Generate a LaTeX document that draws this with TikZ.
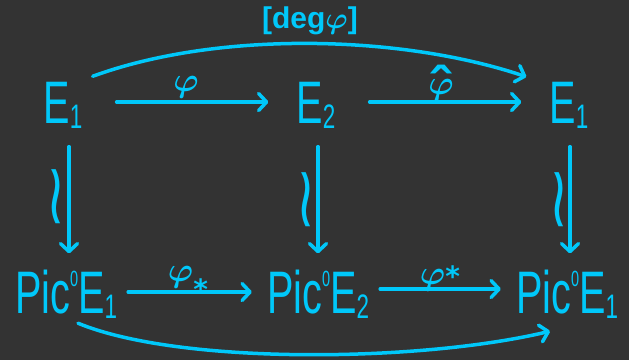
\RequirePackage{fix-cm}
\documentclass[tikz,border=0pt]{standalone}
\usepackage{fontspec}
\setmainfont{Liberation Sans}
\newfontfamily\gr{DejaVu Sans}
\usetikzlibrary{arrows.meta}
\definecolor{bg}{RGB}{51,51,51}
\definecolor{cy}{RGB}{0,200,250}
\newcommand{\objtxt}[1]{\scalebox{0.66}[1]{\fontsize{60}{60}\selectfont #1}}
\newcommand{\lowsub}[1]{\raisebox{-5pt}{\fontsize{34}{34}\selectfont #1}}
\newcommand{\highsup}[1]{\raisebox{27pt}{\fontsize{22}{22}\selectfont #1}}
\newcommand{\phisym}{{\boldmath$\varphi$}}
\newcommand{\starsym}{{\gr\bfseries\fontsize{28}{28}\selectfont *}}
\newcommand{\hatsym}{{\gr\bfseries\fontsize{40}{40}\selectfont\scalebox{1.5}[1.2]{\char"02C6}}}
\newcommand{\wrsym}{\rotatebox{-90}{\scalebox{1.8}[1.1]{∼}}}
\begin{document}
\begin{tikzpicture}[x=1pt,y=-1pt,
  every node/.style={text=cy, inner sep=0pt},
  obj/.style={text height=43pt, text depth=0pt},
  lab/.style={font=\fontsize{34}{34}\selectfont, anchor=base},
  wr/.style={font=\gr\fontsize{48}{48}\selectfont},
  arr/.style={draw=cy, line width=3.5pt, line cap=round,
    -{Straight Barb[length=8pt,width=17pt,line cap=round,line join=round]}},
  toph/.style={arr, shorten <=34pt, shorten >=28pt},
  both/.style={arr, shorten <=11pt, shorten >=15pt},
  vert/.style={arr, shorten <=23pt, shorten >=17pt}
]
\fill[bg] (0,0) rectangle (629,360);
\useasboundingbox (0,0) rectangle (629,360);

% objects
\node[obj] (E1L) at (63,102) {\objtxt{E\lowsub{1}}};
\node[obj] (E2)  at (316,102) {\objtxt{E\lowsub{2}}};
\node[obj] (E1R) at (569,102) {\objtxt{E\lowsub{1}}};
\node[obj] (P1L) at (66,292) {\objtxt{Pic\highsup{0}E\lowsub{1}}};
\node[obj] (P2)  at (318,292) {\objtxt{Pic\highsup{0}E\lowsub{2}}};
\node[obj] (P1R) at (567,292) {\objtxt{Pic\highsup{0}E\lowsub{1}}};

% horizontal arrows
\draw[toph] (E1L) -- (E2);
\draw[toph] (E2) -- (E1R);
\draw[both] (P1L) -- (P2);
\draw[both] ([yshift=3pt]P2.east) -- ([yshift=3pt]P1R.west);

% vertical arrows
\draw[vert] ([xshift=6pt]E1L.south) -- ([xshift=6pt]E1L.south |- P1L.north);
\draw[vert] ([xshift=2pt]E2.south) -- ([xshift=2pt]E2.south |- P2.north);
\draw[vert] ([xshift=1pt]E1R.south) -- ([xshift=1pt]E1R.south |- P1R.north);

% curved arrows
\draw[arr] ([shift={(10,-4)}]E1L.north east) .. controls +(126,-46) and +(-125,-42) .. ([shift={(-23,-3.5)}]E1R.north west);
\draw[arr] ([shift={(12,9.5)}]P1L.south) .. controls +(102,42) and +(-130,31) .. ([shift={(-17,17.5)}]P1R.south);

% labels
\node[lab] (lphi) at (186,91) {\phisym};
\node[lab] (lphihat) at (441,94) {\ooalign{\phisym\cr\hidewidth\raisebox{-9pt}{\hatsym}\hidewidth\cr}};
\node[lab] (lphilow) at (188,281) {\phisym\raisebox{-18.5pt}{\starsym}};
\node[lab] (lphiup) at (440,284) {\phisym\raisebox{-2pt}{\starsym}};
\node[font=\bfseries\fontsize{30}{30}\selectfont] (ldeg) at (310,21) {[deg\phisym]};
\node[wr] (w1) at (50,197) {\wrsym};
\node[wr] (w2) at (300,200) {\wrsym};
\node[wr] (w3) at (553,200) {\wrsym};
\end{tikzpicture}
\end{document}
